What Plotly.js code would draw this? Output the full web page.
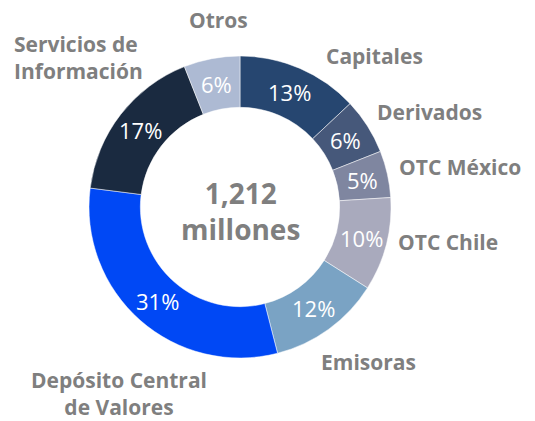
<!DOCTYPE html>
<html>
<head>
<meta charset="utf-8">
<script src="https://cdn.plot.ly/plotly-3.0.1.min.js"></script>
<style>
  html, body { margin: 0; padding: 0; background: #fff; }
  #chart { width: 535px; height: 421px; }
</style>
</head>
<body>
<div id="chart"></div>
<script>
// Revenue mix donut. Slices run clockwise from 12 o'clock.
var CATEGORIES = [
  "Capitales", "Derivados", "OTC México", "OTC Chile",
  "Emisoras", "Depósito Central de Valores", "Servicios de Información", "Otros"
];
// Outside label text (line breaks as in the picture).
var LABEL_TEXT = [
  "Capitales", "Derivados", "OTC México", "OTC Chile",
  "Emisoras", "Depósito Central<br>de Valores", "Servicios de<br>Información", "Otros"
];
var SHARES = [13, 6, 5, 10, 12, 31, 17, 6];
var TOTAL_TEXT = "1,212<br>millones";

var COLORS = [
  "#264670", "#46587a", "#7f86a0", "#a9aabd",
  "#7aa3c4", "#0048f5", "#1a2a40", "#adbad3"
];

var INK = "#7f7f7f";
var FONT = "'Open Sans', Roboto, Arial, sans-serif";
var W = 535, H = 421;
var R = 151, CX = 240, CY = 207, HOLE = 0.66;

// Label anchor points in pixels (x, y, xanchor, align), same order as CATEGORIES.
var LABEL_POS = [
  [325, 56, "left", "left"],
  [376, 112, "left", "left"],
  [398, 167, "left", "left"],
  [397, 242, "left", "left"],
  [368, 362, "center", "center"],
  [119, 393, "center", "center"],
  [13, 57, "left", "left"],
  [218, 20, "center", "center"]
];

function px(x) { return x / W; }
function py(y) { return 1 - y / H; }

var annotations = LABEL_TEXT.map(function (t, i) {
  var p = LABEL_POS[i];
  return {
    xref: "paper", yref: "paper",
    x: px(p[0]), y: py(p[1]),
    xanchor: p[2], yanchor: "middle", align: p[3],
    text: "<b>" + t + "</b>",
    showarrow: false,
    borderpad: 0,
    font: { family: FONT, size: 21, color: INK }
  };
});

// Percent labels sit at the middle of the ring, at each slice's mid-angle.
var total = SHARES.reduce(function (a, b) { return a + b; }, 0);
var rText = R * (1 + HOLE) / 2;
var cum = 0;
SHARES.forEach(function (v) {
  var a = 2 * Math.PI * (cum + v / 2) / total;
  cum += v;
  annotations.push({
    xref: "paper", yref: "paper",
    x: px(CX + rText * Math.sin(a)), y: py(CY - rText * Math.cos(a)),
    xanchor: "center", yanchor: "middle",
    text: Math.round(100 * v / total) + "%",
    showarrow: false,
    font: { family: FONT, size: 22, color: "#ffffff" }
  });
});

annotations.push({
  xref: "paper", yref: "paper",
  x: px(CX), y: py(211),
  xanchor: "center", yanchor: "middle",
  text: "<b>" + TOTAL_TEXT + "</b>",
  showarrow: false,
  font: { family: FONT, size: 28, color: INK }
});

var trace = {
  type: "pie",
  labels: CATEGORIES,
  values: SHARES,
  sort: false,
  direction: "clockwise",
  rotation: 0,
  hole: HOLE,
  domain: {
    x: [px(CX - R), px(CX + R)],
    y: [py(CY + R), py(CY - R)]
  },
  marker: { colors: COLORS, line: { color: "#ffffff", width: 0.5 } },
  textinfo: "none",
  showlegend: false,
  hoverinfo: "label+percent"
};

var layout = {
  width: W, height: H,
  margin: { t: 0, r: 0, b: 0, l: 0 },
  paper_bgcolor: "#ffffff",
  showlegend: false,
  annotations: annotations
};

Plotly.newPlot("chart", [trace], layout, { displayModeBar: false, staticPlot: true });
</script>
</body>
</html>
